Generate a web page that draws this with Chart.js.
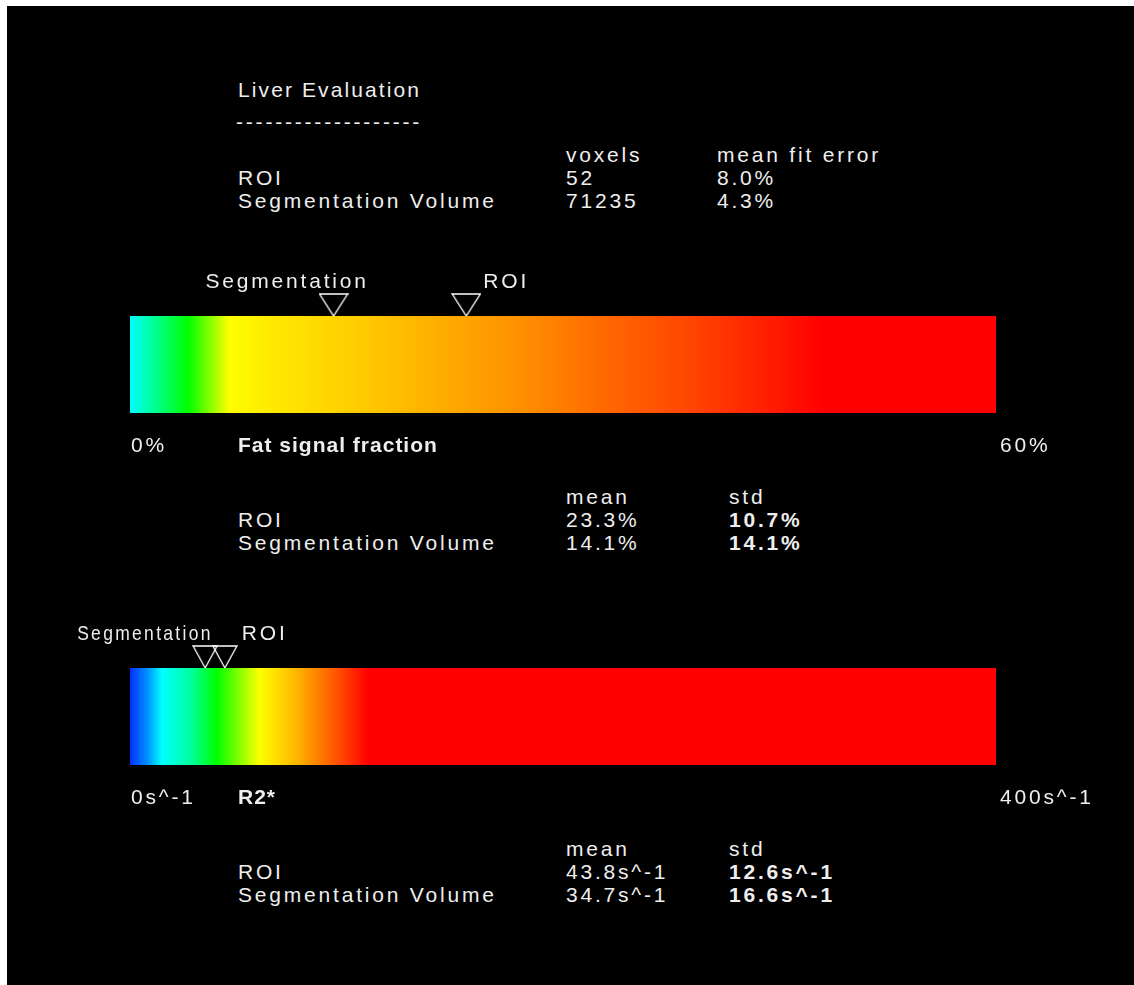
<!DOCTYPE html>
<html>
<head>
<meta charset="utf-8">
<script src="https://cdn.jsdelivr.net/npm/chart.js@4.4.0/dist/chart.umd.min.js"></script>
<style>
html, body { margin: 0; padding: 0; background: #fff; }
#panel { position: absolute; left: 7px; top: 6px; width: 1400px; height: 1200px; background: #000; }
.t { position: absolute; color: #eee; font: 21px "Liberation Sans", Arial, sans-serif; letter-spacing: 2.8px; white-space: pre; line-height: 21px; }
.b { font-weight: bold; }
canvas { position: absolute; left: 0; }
</style>
</head>
<body>
<div id="panel"></div>
<canvas id="fatBar" width="1134" height="200" style="top:260px"></canvas>
<canvas id="r2Bar" width="1134" height="200" style="top:612px"></canvas>
<div id="texts"></div>
<script>
// values
const rowNames = ['ROI', 'Segmentation Volume'];
const markerNames = ['Segmentation', 'ROI'];
const voxels = [52, 71235];
const fitError = [8.0, 4.3];

const fatRange = [0, 60];
const fatMean = [23.3, 14.1];   // ROI, Segmentation Volume
const fatStd = [10.7, 14.1];

const r2Range = [0, 400];
const r2Mean = [43.8, 34.7];
const r2Std = [12.6, 16.6];

const TEXT = '#eee';
const FONT = '21px "Liberation Sans", Arial, sans-serif';

// colour maps of the two bars
const fatStops = [[0, '#00ffff'], [0.067, '#00ff00'], [0.115, '#ffff00'], [0.16, '#ffea00'],
  [0.25, '#ffd000'], [0.35, '#ffb000'], [0.45, '#ff9000'], [0.55, '#ff6800'],
  [0.65, '#ff4400'], [0.75, '#ff1800'], [0.8, '#ff0000'], [1, '#ff0000']];
const r2Stops = [[0, '#0030ff'], [0.02, '#0090ff'], [0.037, '#00ffff'], [0.07, '#00ffa0'],
  [0.1, '#00ff00'], [0.15, '#ffff00'], [0.195, '#ffb000'], [0.24, '#ff5000'],
  [0.275, '#ff0000'], [1, '#ff0000']];

function put(x, base, text, bold, spacing) {
  const s = document.createElement('span');
  s.className = bold ? 't b' : 't';
  s.style.left = x + 'px';
  s.style.top = (base - 18) + 'px';
  if (spacing !== undefined) s.style.letterSpacing = spacing + 'px';
  s.textContent = text;
  document.getElementById('texts').appendChild(s);
}

function table(top, heads, cols, boldLast, col2x) {
  put(566, top, heads[0]);
  put(col2x, top, heads[1]);
  rowNames.forEach((name, i) => {
    const y = top + 23 * (i + 1);
    put(238, y, name);
    put(566, y, cols[0][i]);
    put(col2x, y, cols[1][i], boldLast);
  });
}

put(238, 97, 'Liver Evaluation', false, 2.1);
put(236, 129, '-'.repeat(19));
table(162, ['voxels', 'mean fit error'], [voxels.map(String), fitError.map(v => v.toFixed(1) + '%')], false, 717);
table(504, ['mean', 'std'], [fatMean.map(v => v.toFixed(1) + '%'), fatStd.map(v => v.toFixed(1) + '%')], true, 729);
table(856, ['mean', 'std'], [r2Mean.map(v => v.toFixed(1) + 's^-1'), r2Std.map(v => v.toFixed(1) + 's^-1')], true, 729);

function makeMarker(w, h) {
  const c = document.createElement('canvas');
  c.width = w + 2;
  c.height = h * 2 + 2;
  const g = c.getContext('2d');
  g.strokeStyle = '#fff';
  g.lineWidth = 1.3;
  g.beginPath();
  g.moveTo(1, 1);
  g.lineTo(w + 1, 1);
  g.lineTo(c.width / 2, h + 1);
  g.closePath();
  g.stroke();
  return c;
}

function barFill(stops) {
  return (ctx) => {
    const area = ctx.chart.chartArea;
    if (!area) return stops[0][1];
    const g = ctx.chart.ctx.createLinearGradient(area.left, 0, area.right, 0);
    stops.forEach(([p, c]) => g.addColorStop(p, c));
    return g;
  };
}

const barLabels = {
  id: 'barLabels',
  afterDraw(chart) {
    const o = chart.options.plugins.barLabels;
    const x = chart.scales.x, area = chart.chartArea, ctx = chart.ctx;
    ctx.save();
    ctx.fillStyle = TEXT;
    ctx.font = FONT;
    ctx.letterSpacing = '2.8px';
    ctx.textAlign = 'left';
    ctx.textBaseline = 'alphabetic';
    const px = o.markers.map(v => x.getPixelForValue(v));
    const roiX = px[1] + 17, segX = px[0] - 128;
    ctx.fillText(markerNames[0], segX, area.top - 28, roiX - 29 - segX);
    ctx.fillText(markerNames[1], roiX, area.top - 28);
    ctx.fillText(o.ticks[0], x.getPixelForValue(x.min) + 1, area.bottom + 39);
    ctx.fillText(o.ticks[1], x.getPixelForValue(x.max) + 4, area.bottom + 39);
    ctx.font = 'bold ' + FONT;
    ctx.letterSpacing = '1px';
    ctx.fillText(o.title, 238, area.bottom + 39);
    ctx.restore();
  }
};

function colourBar(id, range, markers, stops, ticks, title, markerW) {
  return new Chart(document.getElementById(id), {
    type: 'scatter',
    data: {
      datasets: [{
        type: 'line',
        data: [{ x: range[0], y: 1 }, { x: range[1], y: 1 }],
        fill: 'origin',
        backgroundColor: barFill(stops),
        borderColor: 'rgba(0,0,0,0)',
        borderWidth: 0,
        pointRadius: 0
      }, {
        data: markers.map(v => ({ x: v, y: 1 })),
        pointStyle: makeMarker(markerW, 22),
        pointRadius: 12,
        clip: false
      }]
    },
    options: {
      responsive: false,
      animation: false,
      events: [],
      layout: { padding: { left: 130, right: 138, top: 56, bottom: 47 } },
      scales: {
        x: { type: 'linear', min: range[0], max: range[1], display: false },
        y: { type: 'linear', min: 0, max: 1, display: false }
      },
      plugins: {
        legend: { display: false },
        tooltip: { enabled: false },
        barLabels: { markers, ticks, title }
      }
    },
    plugins: [barLabels]
  });
}

// markers: Segmentation volume mean, ROI mean
colourBar('fatBar', fatRange, [fatMean[1], fatMean[0]], fatStops,
  fatRange.map(v => v + '%'), 'Fat signal fraction', 28);
colourBar('r2Bar', r2Range, [r2Mean[1], r2Mean[0]], r2Stops,
  r2Range.map(v => v + 's^-1'), 'R2*', 24);
</script>
</body>
</html>
